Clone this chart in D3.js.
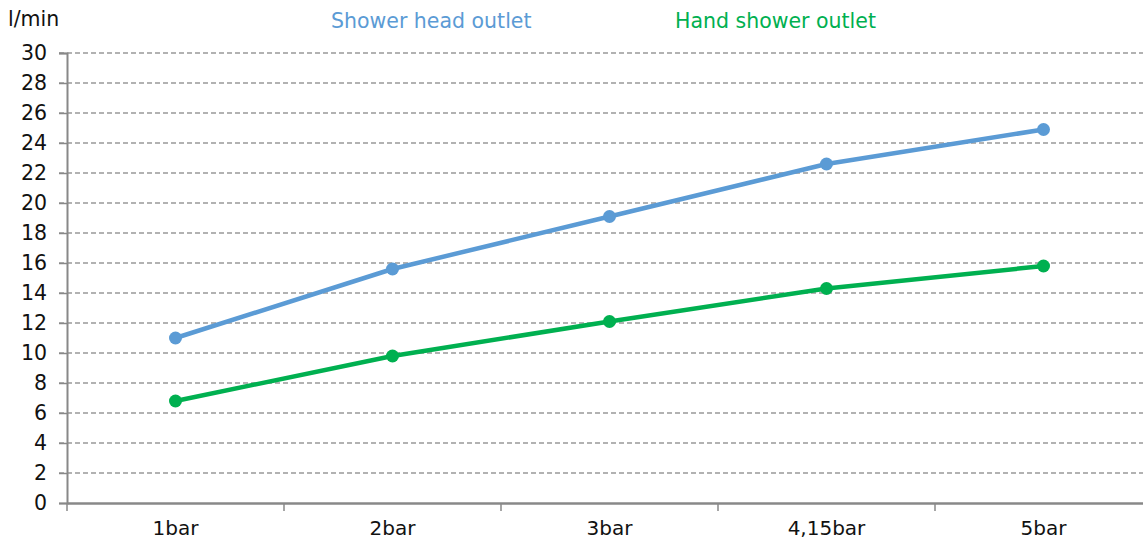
<!DOCTYPE html>
<html>
<head>
<meta charset="utf-8">
<script src="https://cdn.jsdelivr.net/npm/d3@7"></script>
<style>
  body { margin: 0; background: #fff; }
  text { font-family: "DejaVu Sans", sans-serif; }
</style>
</head>
<body>
<div id="chart"></div>
<script>
// data
const categories = ['1bar', '2bar', '3bar', '4,15bar', '5bar'];
const showerHead = [11.0, 15.6, 19.1, 22.6, 24.9];
const handShower = [6.8, 9.8, 12.1, 14.3, 15.8];
const yTicks = d3.range(0, 31, 2);

const width = 1143, height = 543;
const margin = { top: 53, right: -9, bottom: 40, left: 67 };

const svg = d3.select('#chart').append('svg')
    .attr('width', width)
    .attr('height', height);

const x = d3.scaleBand()
    .domain(categories)
    .range([margin.left, width - margin.right]);

const y = d3.scaleLinear()
    .domain([0, 30])
    .range([height - margin.bottom, margin.top]);

// grid lines
svg.append('g')
    .selectAll('line')
    .data(yTicks.filter(d => d > 0))
    .enter()
    .append('line')
    .attr('x1', margin.left - 8)
    .attr('x2', width)
    .attr('y1', d => y(d))
    .attr('y2', d => y(d))
    .attr('stroke', '#999')
    .attr('stroke-width', 1.3)
    .attr('stroke-dasharray', '5,3');

// y axis
const yAxis = svg.append('g')
    .attr('transform', `translate(${margin.left},0)`)
    .call(d3.axisLeft(y).tickValues(yTicks).tickSize(8).tickPadding(12));
yAxis.select('.domain').attr('stroke', '#888').attr('stroke-width', 2);
yAxis.selectAll('.tick line').attr('stroke', '#888').attr('stroke-width', 1.5);
yAxis.selectAll('.tick text')
    .attr('font-size', 20.5)
    .attr('fill', '#111');

// x axis
const xAxis = svg.append('g')
    .attr('transform', `translate(0,${y(0)})`)
    .call(d3.axisBottom(x).tickSize(0).tickPadding(18));
xAxis.select('.domain').attr('stroke', '#888').attr('stroke-width', 2.5);
xAxis.selectAll('.tick text')
    .attr('font-size', 20)
    .attr('fill', '#111');

// boundary tick marks between categories
svg.append('g')
    .selectAll('line')
    .data(categories)
    .enter()
    .append('line')
    .attr('x1', d => x(d))
    .attr('x2', d => x(d))
    .attr('y1', y(0))
    .attr('y2', y(0) + 8)
    .attr('stroke', '#888')
    .attr('stroke-width', 1.5);

const series = [
    { name: 'Shower head outlet', values: showerHead, color: '#5b9bd5', lx: 331 },
    { name: 'Hand shower outlet', values: handShower, color: '#00b050', lx: 675 }
];

const line = d3.line()
    .x((d, i) => x(categories[i]) + x.bandwidth() / 2)
    .y(d => y(d));

series.forEach(s => {
    svg.append('path')
        .datum(s.values)
        .attr('fill', 'none')
        .attr('stroke', s.color)
        .attr('stroke-width', 4.5)
        .attr('stroke-linejoin', 'round')
        .attr('d', line);

    svg.append('g')
        .selectAll('circle')
        .data(s.values)
        .enter()
        .append('circle')
        .attr('cx', (d, i) => x(categories[i]) + x.bandwidth() / 2)
        .attr('cy', d => y(d))
        .attr('r', 6.5)
        .attr('fill', s.color);

    // legend
    svg.append('text')
        .attr('x', s.lx)
        .attr('y', 28)
        .attr('font-size', 20.5)
        .attr('fill', s.color)
        .text(s.name);
});

// unit label
svg.append('text')
    .attr('x', 8)
    .attr('y', 26)
    .attr('font-size', 20.5)
    .attr('fill', '#111')
    .text('l/min');
</script>
</body>
</html>
